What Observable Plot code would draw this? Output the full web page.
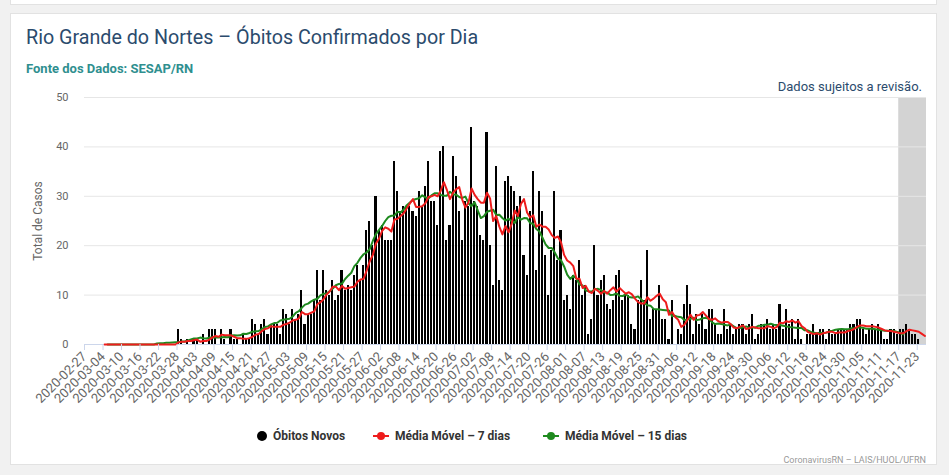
<!DOCTYPE html>
<html><head><meta charset="utf-8">
<script src="https://cdn.jsdelivr.net/npm/d3@7"></script>
<script src="https://cdn.jsdelivr.net/npm/@observablehq/plot@0.6"></script>
<style>
body{margin:0;width:949px;height:475px;background:#f1f1f1;font-family:Roboto,"Open Sans",sans-serif;position:relative;overflow:hidden}
#prev{position:absolute;left:10px;width:927px;top:-10px;height:15px;background:#fff;border:1px solid #e2e2e2;box-sizing:border-box}
#card{position:absolute;left:10px;top:13px;width:927px;height:452px;background:#fff;border:1px solid #e2e2e2;box-sizing:border-box}
.abs{position:absolute;white-space:nowrap}
#title{left:26px;top:26px;font-size:19.7px;line-height:24px;color:#2b4b6d}
#sub{left:26px;top:62px;font-size:13px;line-height:14px;font-weight:bold;color:#2f8f8f}
#rev{right:27px;top:80px;font-size:13px;line-height:14px;color:#2b4b6d;z-index:2}
#chart{position:absolute;left:0;top:90px}
#ylab{left:38px;top:221px;font-size:12px;line-height:14px;color:#666;transform:translate(-50%,-50%) rotate(-90deg);z-index:2}
.leg{top:429px;font-size:12px;line-height:14px;font-weight:bold;color:#333}
#credit{right:23px;top:454px;font-size:9px;line-height:12px;color:#999}
.dot{display:inline-block;width:10px;height:10px;border-radius:50%;background:#000;vertical-align:-1px;margin-right:6px}
.lm{display:inline-block;position:relative;width:16px;height:10px;margin-right:6px;vertical-align:-1px}
.lm i{position:absolute;left:0;right:0;top:4px;height:2px}
.lm b{position:absolute;left:4px;top:1px;width:8px;height:8px;border-radius:50%}
</style></head>
<body>
<div id="prev"></div>
<div id="card"></div>
<div class="abs" id="title">Rio Grande do Nortes – Óbitos Confirmados por Dia</div>
<div class="abs" id="sub">Fonte dos Dados: SESAP/RN</div>
<div class="abs" id="rev">Dados sujeitos a revisão.</div>
<div id="chart"></div>
<div class="abs" id="ylab"></div>
<div class="abs leg" style="left:257px"><span class="dot"></span>Óbitos Novos</div>
<div class="abs leg" style="left:373px"><span class="lm"><i style="background:#ee1c1c"></i><b style="background:#ee1c1c"></b></span>Média Móvel – 7 dias</div>
<div class="abs leg" style="left:543px"><span class="lm"><i style="background:#1e8a1e"></i><b style="background:#1e8a1e"></b></span>Média Móvel – 15 dias</div>
<div class="abs" id="credit">CoronavirusRN – LAIS/HUOL/UFRN</div>
<script>
// first day of the series and daily new deaths (Óbitos Novos), one value per day
const firstDay = "2020-02-27";
const obitosNovos = [
 0,0,0,0,0,0,0,0,0,0, 0,0,0,0,0,0,0,0,0,0,
 0,0,0,0,0,0,0,0,0,0, 3,1,0,1,0,1,1,0,2,0,
 3,3,3,0,3,1,0,3,1,1, 0,2,1,1,5,4,2,4,5,2,
 4,4,4,2,7,6,4,7,5,6, 11,4,6,6,9,15,9,15,11,10,
 13,9,10,15,11,12,11,14,16,13, 16,23,25,20,30,23,24,21,21,21,
 37,31,27,28,28,28,27,26,31,28, 32,37,29,29,24,39,40,21,24,38,
 34,27,21,29,28,44,29,28,22,21, 43,20,12,36,13,11,33,34,32,31,
 28,30,18,14,27,35,15,31,27,18, 10,19,31,17,23,9,10,7,14,13,
 17,10,12,2,5,20,10,13,14,8, 7,9,14,15,9,10,10,4,3,9,
 13,9,19,5,7,7,12,5,5,1, 9,0,3,2,8,12,8,2,6,4,
 6,3,7,7,4,2,2,7,3,4, 2,3,4,4,2,4,6,1,2,4,
 4,5,3,4,3,8,3,7,4,5, 1,5,1,0,2,2,4,2,3,3,
 1,3,2,2,3,3,3,3,4,4, 5,5,3,2,3,4,3,4,3,1,
 1,3,3,2,3,3,4,3,2,2, 1,0,0
];
const axisEnd = "2020-11-26";
const revisao = [{inicio: "2020-11-17", fim: "2020-11-26"}];
const tickLabels = ["2020-02-27","2020-03-04","2020-03-10","2020-03-16","2020-03-22","2020-03-28","2020-04-03","2020-04-09","2020-04-15","2020-04-21","2020-04-27","2020-05-03","2020-05-09","2020-05-15","2020-05-21","2020-05-27","2020-06-02","2020-06-08","2020-06-14","2020-06-20","2020-06-26","2020-07-02","2020-07-08","2020-07-14","2020-07-20","2020-07-26","2020-08-01","2020-08-07","2020-08-13","2020-08-19","2020-08-25","2020-08-31","2020-09-06","2020-09-12","2020-09-18","2020-09-24","2020-09-30","2020-10-06","2020-10-12","2020-10-18","2020-10-24","2020-10-30","2020-11-05","2020-11-11","2020-11-17","2020-11-23"];
const yTicks = [0,10,20,30,40,50];
const yLabel = "Total de Casos";
document.getElementById("ylab").textContent = yLabel;

const parse = d3.utcParse("%Y-%m-%d");
const start = parse(firstDay);
const rows = obitosNovos.map((v,i) => {
  const d = d3.utcDay.offset(start, i);
  return {date: d, next: d3.utcDay.offset(d, 1), mid: d3.utcHour.offset(d, 12), value: v};
});
const band = revisao.map(r => ({x1: parse(r.inicio), x2: parse(r.fim)}));

const chart = Plot.plot({
  width: 949, height: 320,
  marginLeft: 84, marginRight: 23, marginTop: 7, marginBottom: 66,
  style: {fontFamily: "Roboto, sans-serif", background: "transparent", overflow: "visible"},
  x: {type: "utc", domain: [start, parse(axisEnd)]},
  y: {domain: [0, 50]},
  marks: [
    Plot.rect(band, {x1: "x1", x2: "x2", fill: "#d3d3d3"}),
    Plot.gridY(yTicks, {stroke: "#e6e6e6", strokeOpacity: 1}),
    Plot.rectY(rows, {x1: "date", x2: "next", y: "value", fill: "#000", insetLeft: 0.5, insetRight: 0.5, shapeRendering: "crispEdges"}),
    Plot.ruleY([0], {stroke: "#ccd6eb"}),
    Plot.lineY(rows, Plot.windowY({k: 15, anchor: "middle", strict: true, reduce: "mean"}, {x: "mid", y: "value", stroke: "#1e8a1e", strokeWidth: 2})),
    Plot.lineY(rows, Plot.windowY({k: 7, anchor: "end", strict: true, reduce: "mean"}, {x: "mid", y: "value", stroke: "#ee1c1c", strokeWidth: 2})),
    Plot.axisX(tickLabels.map(parse), {tickFormat: d3.utcFormat("%Y-%m-%d"), tickRotate: -45, tickSize: 6, tickPadding: 4, fontSize: 13, stroke: "#ccd6eb", fill: "#666", label: null}),
    Plot.axisY(yTicks, {tickSize: 0, tickPadding: 16, fontSize: 11, fill: "#666", label: null})
  ]
});
document.getElementById("chart").appendChild(chart);
</script>
</body></html>
